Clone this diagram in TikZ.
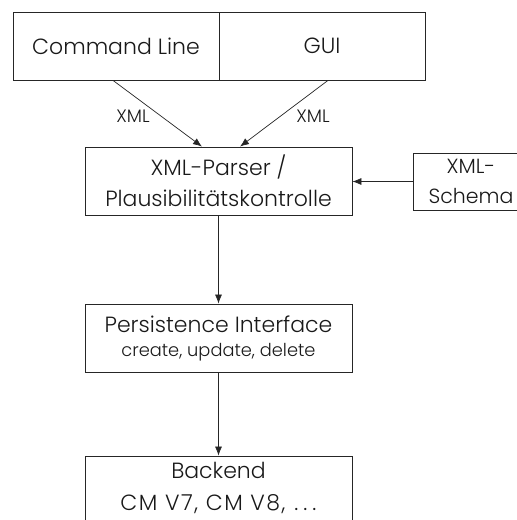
\documentclass[tikz,border=0pt]{standalone}
\usepackage{fontspec}
\setmainfont{Poppins}[UprightFont=* Light]
\usetikzlibrary{arrows.meta,calc}
\begin{document}
\begin{tikzpicture}[x=1pt,y=-1pt,
  box/.style={draw=black!85,line width=0.8pt,rectangle,inner sep=0pt,align=center,
    font=\fontsize{22}{31}\selectfont,text=black!90},
  conn/.style={draw=black!85,line width=0.7pt,-{Latex[length=9pt,width=7pt]}},
  lbl/.style={font=\fontsize{18}{20}\selectfont,text=black!90}]
\useasboundingbox (0,0) rectangle (517,520);
\node[box,minimum width=206pt,minimum height=68pt] (cmd) at (116,46) {Command Line};
\node[box,minimum width=206pt,minimum height=68pt] (gui) at (322,46) {GUI};
\node[box,minimum width=267pt,minimum height=68pt] (parser) at (218.5,181) {XML-Parser /\\Plausibilitätskontrolle};
\node[box,minimum width=116pt,minimum height=57pt,font=\fontsize{20.5}{30}\selectfont] (schema) at (471,181.5) {XML-\\Schema};
\node[box,minimum width=267pt,minimum height=68pt] (persist) at (218.5,338) {Persistence Interface\\[-7pt]{\fontsize{17.8}{19}\selectfont create, update, delete}};
\node[box,minimum width=267pt,minimum height=64pt,font=\fontsize{22}{32}\selectfont] (backend) at (218.5,488) {Backend\\{\addfontfeature{LetterSpace=7}CM V7, CM V8,}\hspace{3pt} .\hspace{5pt}.\hspace{5pt}.};
\draw[conn] ($(cmd.south)+(-3,0)$) -- ($(parser.north)+(-16.5,0)$);
\draw[conn] ($(gui.south)+(6,0)$) -- ($(parser.north)+(21.5,0)$);
\node[lbl] (xml1) at (133,116) {XML};
\node[lbl] (xml2) at (313,116) {XML};
\draw[conn] (schema.west) -- (schema.west -| parser.east);
\draw[conn] (parser.south) -- (persist.north);
\draw[conn] (persist.south) -- (backend.north);
\end{tikzpicture}
\end{document}
